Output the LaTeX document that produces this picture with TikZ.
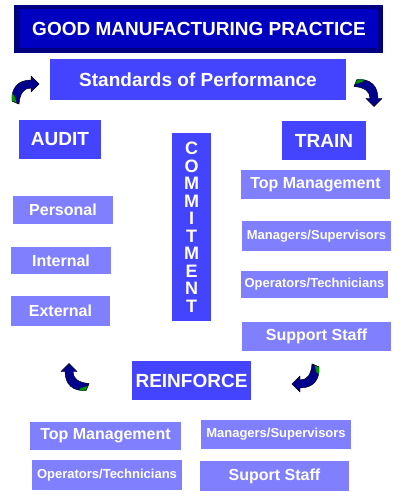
\documentclass[tikz,border=0pt]{standalone}
\usepackage{fontspec}
\setmainfont{Liberation Sans}
\definecolor{navyout}{RGB}{0,0,128}
\definecolor{navyin}{RGB}{0,0,192}
\definecolor{darkbox}{RGB}{68,68,255}
\definecolor{lightbox}{RGB}{128,128,255}
\definecolor{arrnavy}{RGB}{0,0,140}
\definecolor{arrgreen}{RGB}{0,150,0}
\tikzset{
  box/.style={inner sep=0pt, text=white, font=\bfseries\fontsize{16}{16}\selectfont},
  darkb/.style={box, fill=darkbox, font=\bfseries\fontsize{19}{19}\selectfont},
  lightb/.style={box, fill=lightbox},
  smallt/.style={font=\bfseries\fontsize{13}{13}\selectfont},
  cyc/.pic={
    \draw[fill=arrnavy, draw=black, line width=0.4pt]
      (-13.5,11) .. controls (-14.5,-2) and (-7.5,-10) .. (5.5,-10)
      -- (5.5,-14) -- (13.5,-6) -- (5.5,2) -- (5.5,-2)
      .. controls (-1.5,-2) and (-5.5,3) .. (-6.5,14) -- cycle;
    \fill[arrgreen] (-13.3,10.8) -- (-13.7,4) -- (-11.2,5.5) -- (-8.8,13.2) -- cycle;
    \draw[black, line width=0.4pt] (-13.5,11) -- (-6.5,14);
  }
}
\begin{document}
\begin{tikzpicture}[x={(1pt,0)}, y={(0,-1pt)}]
\useasboundingbox[fill=white] (0,0) rectangle (400,500);
% title
\node[fill=navyout, inner sep=0pt, minimum width=369, minimum height=48] (titlebg) at (198.5,29) {};
\node[box, fill=navyin, minimum width=358, minimum height=39, font=\bfseries\fontsize{19}{19}\selectfont] (title) at (199,29) {GOOD MANUFACTURING PRACTICE};
% main boxes
\node[darkb, minimum width=296, minimum height=41] (sop) at (198,79.5) {Standards of Performance};
\node[darkb, minimum width=82, minimum height=39] (audit) at (60,139.5) {AUDIT};
\node[darkb, minimum width=84, minimum height=39] (train) at (324,140.5) {TRAIN};
\node[darkb, minimum width=119, minimum height=39] (reinforce) at (191.5,380.5) {REINFORCE};
\node[darkb, minimum width=39, minimum height=188, align=center, font=\bfseries\fontsize{18}{17.5}\selectfont] (commit) at (191.5,227)
  {C\\O\\M\\M\\I\\T\\M\\E\\N\\T};
% audit column
\node[lightb, minimum width=100, minimum height=28] (personal) at (63,210) {Personal};
\node[lightb, minimum width=100, minimum height=27] (internal) at (61,260.5) {Internal};
\node[lightb, minimum width=99, minimum height=30] (external) at (60.5,311) {External};
% train column
\node[lightb, minimum width=149, minimum height=29] (rtop) at (315.5,184.5) {Top Management};
\node[lightb, smallt, minimum width=149, minimum height=30] (rman) at (316.5,236) {Managers/Supervisors};
\node[lightb, smallt, minimum width=147, minimum height=27] (rop) at (314.5,284.5) {Operators/Technicians};
\node[lightb, minimum width=149, minimum height=29] (rsup) at (316.5,336.5) {Support Staff};
% reinforce boxes
\node[lightb, minimum width=151, minimum height=28] (btop) at (105.5,436) {Top Management};
\node[lightb, smallt, minimum width=150, minimum height=29] (bman) at (276,434.5) {Managers/Supervisors};
\node[lightb, smallt, minimum width=150, minimum height=30] (bop) at (107,475) {Operators/Technicians};
\node[lightb, minimum width=149, minimum height=30] (bsup) at (274.5,476) {Suport Staff};
% cycle arrows
\pic at (25.5,90) {cyc};
\pic[rotate=-90] at (368,93) {cyc};
\pic[rotate=90] at (75,377) {cyc};
\pic[rotate=180] at (305.5,378) {cyc};
\end{tikzpicture}
\end{document}
